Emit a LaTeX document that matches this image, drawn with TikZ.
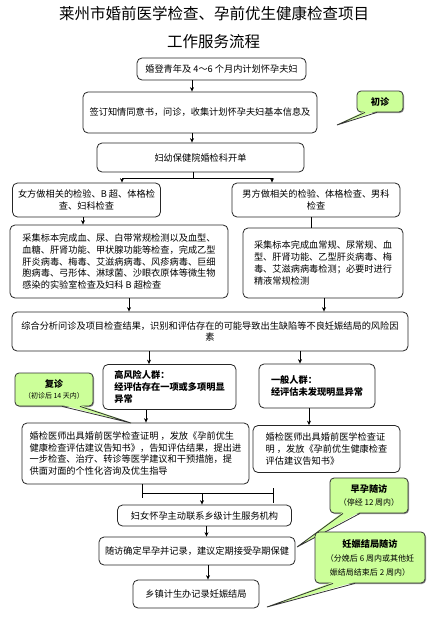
\documentclass[tikz,border=0pt]{standalone}
\usepackage{fontspec}
\setmainfont{Noto Sans CJK SC}
\usetikzlibrary{arrows.meta,calc,shadows}
\definecolor{cgreen}{HTML}{CCFF99}
\begin{document}
\begin{tikzpicture}[x=1pt,y=-1pt,
 box/.style={draw=black!85, line width=0.8pt, rounded corners=5pt, inner sep=2pt,
   font=\fontsize{9.2}{11.8}\selectfont, fill=white},
 arr/.style={-{Stealth[length=4.5pt,width=4pt]}, line width=0.8pt},
 ln/.style={line width=0.8pt},
 call/.style={draw=black!80, line width=0.8pt, rounded corners=4pt, fill=cgreen, inner sep=1pt,
   align=center, drop shadow={shadow xshift=1pt, shadow yshift=-1pt, opacity=0.6, fill=black!70}},
 tailfill/.style={fill=cgreen},
 tailline/.style={draw=black!80, line width=0.8pt, line join=miter},
 ttl/.style={font=\fontsize{15.5}{18}\selectfont},
]
\useasboundingbox[fill=white] (0,0) rectangle (433,618);

% titles
\node[ttl] (t1) at (214,14) {莱州市婚前医学检查、孕前优生健康检查项目};
\node[ttl] (t2) at (213.5,42) {工作服务流程};

% boxes
\node[box, minimum width=169pt, minimum height=22pt] (b1) at (221.5,69) {婚登青年及 4～6 个月内计划怀孕夫妇};
\node[box, minimum width=234pt, minimum height=41pt] (b2) at (200,112.5) {签订知情同意书，问诊，收集计划怀孕夫妇基本信息及};
\node[box, minimum width=207pt, minimum height=29pt] (b3) at (200.5,157.5) {妇幼保健院婚检科开单};
\node[box, minimum width=148pt, minimum height=34pt, align=center] (b4) at (86.5,200) {女方做相关的检验、B 超、体格检\\查、妇科检查};
\node[box, minimum width=168pt, minimum height=34pt, align=center] (b5) at (316,200) {男方做相关的检验、体格检查、男科\\检查};
\node[box, minimum width=218pt, minimum height=73pt, align=left] (b6) at (119,261.5) {采集标本完成血、尿、白带常规检测以及血型、\\血糖、肝肾功能、甲状腺功能等检查，完成乙型\\肝炎病毒、梅毒、艾滋病病毒、风疹病毒、巨细\\胞病毒、弓形体、淋球菌、沙眼衣原体等微生物\\感染的实验室检查及妇科 B 超检查};
\node[box, minimum width=160pt, minimum height=70pt, align=left] (b7) at (323,263) {采集标本完成血常规、尿常规、血\\型、肝肾功能、乙型肝炎病毒、梅\\毒、艾滋病病毒检测；必要时进行\\精液常规检测};
\node[box, minimum width=396pt, minimum height=39pt, align=center] (b8) at (210,331.5) {综合分析问诊及项目检查结果，识别和评估存在的可能导致出生缺陷等不良妊娠结局的风险因\\素};
\node[box, minimum width=133pt, minimum height=45pt, align=left, font=\fontsize{9.2}{11.8}\selectfont\bfseries] (b9) at (169.5,387) {高风险人群：\\经评估存在一项或多项明显\\异常};
\node[box, minimum width=116pt, minimum height=44pt, align=left, font=\fontsize{9.2}{11.8}\selectfont\bfseries] (b10) at (317,386) {一般人群：\\经评估未发现明显异常};
\node[box, minimum width=227pt, minimum height=61pt, align=left] (b11) at (135.5,453.5) {婚检医师出具婚前医学检查证明 ，发放《孕前优生\\健康检查评估建议告知书》，告知评估结果，提出进\\一步检查、治疗、转诊等医学建议和干预措施，提\\供面对面的个性化咨询及优生指导};
\node[box, minimum width=147pt, minimum height=47pt, align=left] (b12) at (326.5,449) {婚检医师出具婚前医学检查证\\明 ，发放《孕前优生健康检查\\评估建议告知书》};
\node[box, minimum width=174pt, minimum height=21pt] (b13) at (204.5,515.5) {妇女怀孕主动联系乡级计生服务机构};
\node[box, minimum width=196pt, minimum height=28pt] (b14) at (197,551) {随访确定早孕并记录，建议定期接受孕期保健};
\node[box, minimum width=126pt, minimum height=28pt] (b15) at (196,594) {乡镇计生办记录妊娠结局};

% connectors
\draw[arr] ([xshift=-29.5pt]b1.south) -- ([xshift=-29.5pt]b1.south |- b2.north);
\draw[arr] ([xshift=-8pt]b2.south) -- ([xshift=-8pt]b2.south |- b3.north);
\coordinate (jL) at (122,178);
\coordinate (jR) at (272,178);
\draw[ln] ([xshift=-7.5pt]b3.south) -- ([xshift=-7.5pt]b3.south |- jL);
\draw[ln] (jL) -- (jR);
\draw[arr] (jL) -- (jL |- b4.north);
\draw[arr] (jR) -- (jR |- b5.north);
\draw[arr] ([xshift=-3.5pt]b4.south) -- ([xshift=-3.5pt]b4.south |- b6.north);
\draw[ln] ([xshift=-5pt]b5.south) -- ([xshift=-5pt]b5.south |- b7.north);
\draw[arr] ([xshift=10pt]b6.south) -- ([xshift=10pt]b6.south |- b8.north);
\draw[arr] ([xshift=1pt]b7.south) -- ([xshift=1pt]b7.south |- b8.north);
\draw[arr] ([xshift=-20.5pt]b9.north |- b8.south) -- ([xshift=-20.5pt]b9.north);
\draw[arr] ([xshift=-17pt]b10.north |- b8.south) -- ([xshift=-17pt]b10.north);
\draw[arr] ([xshift=-23.5pt]b9.south) -- ([xshift=-23.5pt]b9.south |- b11.north);
\draw[arr] ([xshift=-8pt]b10.south) -- ([xshift=-8pt]b10.south |- b12.north);
\coordinate (mL) at (142,493);
\coordinate (mLb) at (142,498);
\coordinate (mR) at (273,493);
\coordinate (mRt) at (273,488);
\coordinate (mRb) at (273,503);
\draw[ln] (b11.south -| mL) -- (mLb);
\draw[ln] (mL) -- (mR);
\draw[ln] (mRt) -- (mRb);
\draw[arr] ([xshift=-2.5pt]b13.north |- mL) -- ([xshift=-2.5pt]b13.north);
\draw[arr] ([xshift=2pt]b13.south) -- ([xshift=2pt]b13.south |- b14.north);
\draw[arr] ([xshift=11pt]b14.south) -- ([xshift=11pt]b14.south |- b15.north);

% callouts
\node[call, minimum width=46pt, minimum height=21pt, font=\fontsize{9.2}{11}\selectfont\bfseries] (c1) at (380,101.5) {初诊};
\coordinate (c1tip) at (337,125);
\fill[tailfill] ([xshift=-15pt,yshift=1.5pt]c1.south) -- (c1tip) -- ([xshift=-3pt,yshift=1.5pt]c1.south) -- cycle;
\draw[tailline] ([xshift=-15pt]c1.south) -- (c1tip) -- ([xshift=-3pt]c1.south);

\node[call, minimum width=78pt, minimum height=33pt, font=\fontsize{7}{11}\selectfont] (c2) at (54,389.5) {{\fontsize{9.2}{11}\selectfont\bfseries 复诊}\\（初诊后 14 天内）};
\coordinate (c2tip) at (131,423);
\fill[tailfill] ([xshift=8pt,yshift=1.5pt]c2.south) -- (c2tip) -- ([xshift=26pt,yshift=1.5pt]c2.south) -- cycle;
\draw[tailline] ([xshift=8pt]c2.south) -- (c2tip) -- ([xshift=26pt]c2.south);

\node[call, minimum width=78pt, minimum height=35pt, font=\fontsize{8}{13.5}\selectfont] (c3) at (369,495.5) {{\fontsize{9.2}{13.5}\selectfont\bfseries 早孕随访}\\（停经 12 周内）};
\coordinate (c3tip) at (297,547);
\fill[tailfill] ([xshift=-26pt,yshift=1.5pt]c3.south) -- (c3tip) -- ([xshift=-9pt,yshift=1.5pt]c3.south) -- cycle;
\draw[tailline] ([xshift=-26pt]c3.south) -- (c3tip) -- ([xshift=-9pt]c3.south);

\node[call, minimum width=110pt, minimum height=51pt, font=\fontsize{8}{14}\selectfont] (c4) at (370,557.5) {{\fontsize{9.2}{14}\selectfont\bfseries 妊娠结局随访}\\（分娩后 6 周内或其他妊\\娠结局结束后 2 周内）};
\coordinate (c4tip) at (267,607);
\fill[tailfill] ([xshift=-37pt,yshift=1.5pt]c4.south) -- (c4tip) -- ([xshift=-15pt,yshift=1.5pt]c4.south) -- cycle;
\draw[tailline] ([xshift=-37pt]c4.south) -- (c4tip) -- ([xshift=-15pt]c4.south);
\end{tikzpicture}
\end{document}
